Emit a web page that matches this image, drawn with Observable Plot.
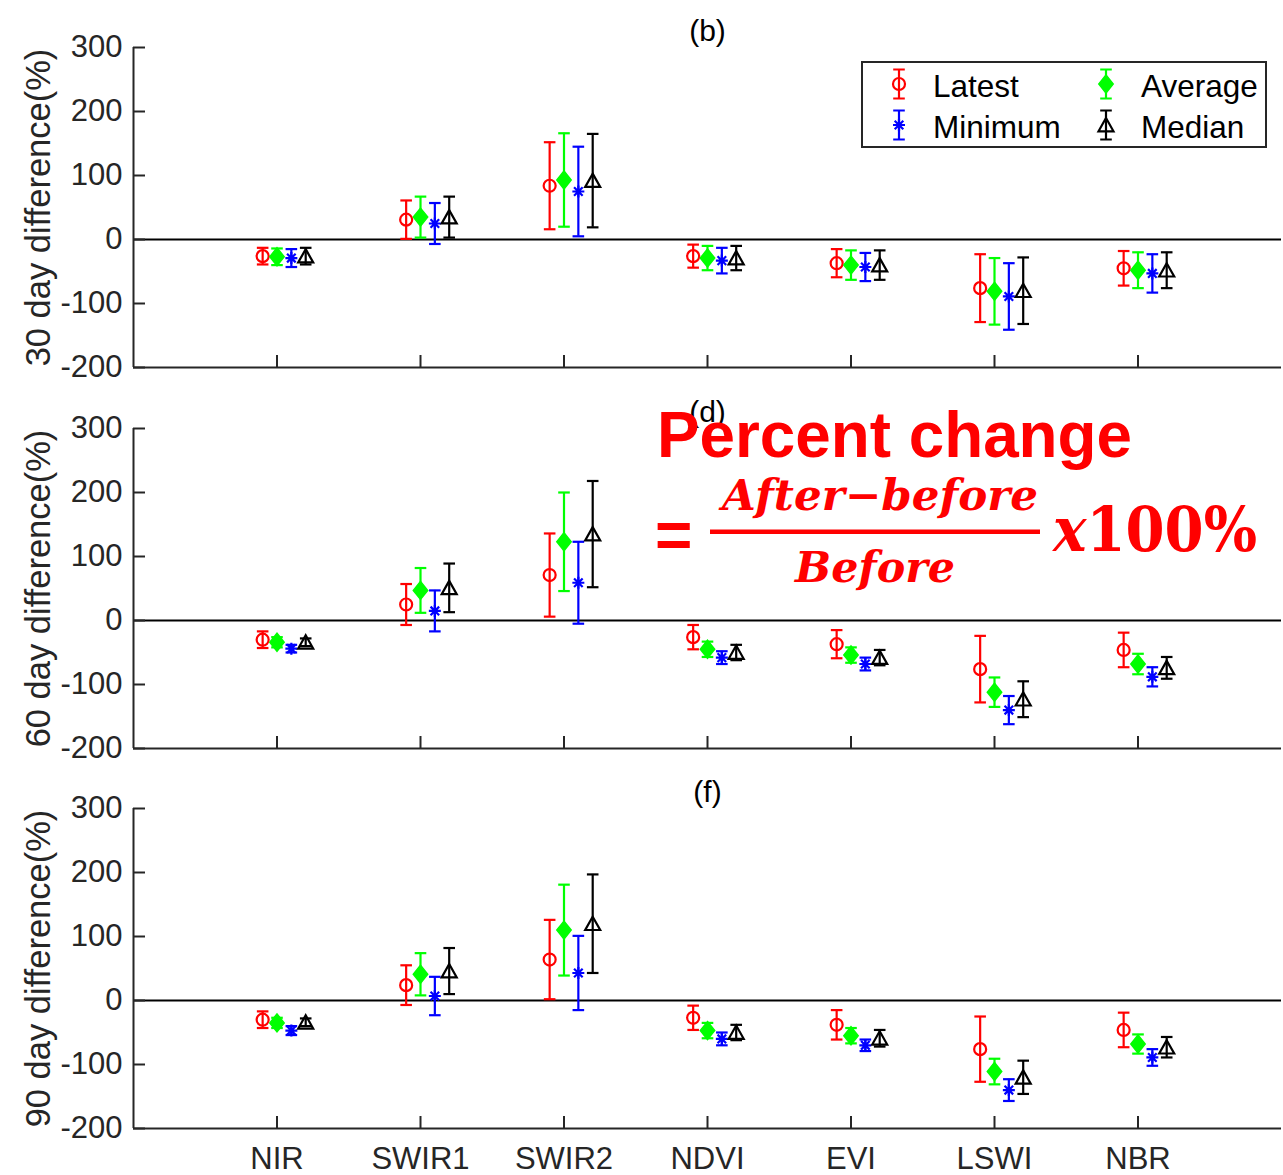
<!DOCTYPE html>
<html>
<head>
<meta charset="utf-8">
<script src="https://cdn.jsdelivr.net/npm/d3@7"></script>
<script src="https://cdn.jsdelivr.net/npm/@observablehq/plot@0.6"></script>
<style>
  html, body { margin: 0; padding: 0; background: #fff; }
  #fig { position: relative; width: 1283px; height: 1175px; overflow: hidden; background: #fff;
         font-family: "Liberation Sans", Arial, sans-serif; }
  #fig svg { position: absolute; left: 0; }
</style>
</head>
<body>
<div id="fig"></div>
<script>
// Spectral bands / indices on the x axis
const bands = ["NIR", "SWIR1", "SWIR2", "NDVI", "EVI", "LSWI", "NBR"];
const seriesNames = ["Latest", "Average", "Minimum", "Median"];
const seriesColors = ["#ff0000", "#00ff00", "#0000ff", "#000000"];
const yTicks = [-200, -100, 0, 100, 200, 300];
const panelTitles = ["(b)", "(d)", "(f)"];
const panelLabels = ["30 day difference(%)", "60 day difference(%)", "90 day difference(%)"];

// 30 day difference (%): value and error half-width per band
const latest30 = [-26, 31, 84, -26, -37, -76, -45];
const latest30Err = [13, 30, 68, 18, 22, 53, 27];
const average30 = [-27, 35, 93, -29, -40, -81, -48];
const average30Err = [13, 32, 73, 19, 23, 52, 28];
const minimum30 = [-29, 25, 75, -33, -43, -89, -53];
const minimum30Err = [14, 32, 70, 20, 22, 52, 30];
const median30 = [-26, 35, 92, -29, -40, -80, -48];
const median30Err = [13, 32, 73, 19, 23, 52, 28];

// 60 day difference (%)
const latest60 = [-30, 25, 71, -26, -37, -76, -46];
const latest60Err = [13, 32, 65, 19, 22, 52, 27];
const average60 = [-34, 47, 123, -45, -54, -112, -68];
const average60Err = [8, 35, 77, 12, 12, 23, 16];
const minimum60 = [-44, 15, 59, -58, -68, -140, -88];
const minimum60Err = [6, 32, 64, 10, 10, 22, 15];
const median60 = [-34, 51, 135, -50, -58, -123, -74];
const median60Err = [6, 38, 83, 12, 12, 28, 17];

// 90 day difference (%)
const latest90 = [-30, 24, 64, -27, -38, -76, -46];
const latest90Err = [13, 31, 62, 19, 23, 51, 27];
const average90 = [-35, 41, 110, -47, -55, -111, -68];
const average90Err = [8, 33, 71, 12, 12, 20, 15];
const minimum90 = [-47, 7, 43, -60, -70, -140, -89];
const minimum90Err = [7, 30, 58, 10, 9, 17, 13];
const median90 = [-34, 46, 120, -50, -59, -120, -73];
const median90Err = [6, 36, 77, 12, 13, 26, 16];

const panelValues = [
  [latest30, average30, minimum30, median30],
  [latest60, average60, minimum60, median60],
  [latest90, average90, minimum90, median90]
];
const panelErrors = [
  [latest30Err, average30Err, minimum30Err, median30Err],
  [latest60Err, average60Err, minimum60Err, median60Err],
  [latest90Err, average90Err, minimum90Err, median90Err]
];

// Layout
const W = 1283, H = 1175;
const panelTop = [0, 381, 762];
const panelMarginTop = [47, 47, 46];
const panelMarginBottom = [14, 14, 47];
const plotHeight = 320;
const seriesShift = [-0.1, 0, 0.1, 0.2];   // side-by-side offset within a band
const axisColor = "#262626";

// Marker shapes (MATLAB-style)
const capSymbol = {draw(c) { c.moveTo(-5.8, 0); c.lineTo(5.8, 0); }};
const circleSymbol = {draw(c) { c.moveTo(6, 0); c.arc(0, 0, 6, 0, 2 * Math.PI); c.closePath(); }};
const diamondSymbol = {draw(c) { c.moveTo(0, -9); c.lineTo(7.2, 0); c.lineTo(0, 9); c.lineTo(-7.2, 0); c.closePath(); }};
const asteriskSymbol = {draw(c) {
  const a = 6, b = 4.3;
  c.moveTo(0, -a); c.lineTo(0, a);
  c.moveTo(-a, 0); c.lineTo(a, 0);
  c.moveTo(-b, -b); c.lineTo(b, b);
  c.moveTo(-b, b); c.lineTo(b, -b);
}};
const triangleSymbol = {draw(c) { c.moveTo(0, -7); c.lineTo(7.5, 6.3); c.lineTo(-7.5, 6.3); c.closePath(); }};
const seriesSymbols = [circleSymbol, diamondSymbol, asteriskSymbol, triangleSymbol];
const seriesFilled = [false, true, false, false];

const fig = document.getElementById("fig");

function drawPanel(p) {
  const rows = [];
  seriesNames.forEach((s, k) => {
    panelValues[p][k].forEach((v, i) => {
      const e = panelErrors[p][k][i];
      rows.push({band: bands[i], series: s, pos: i + 1 + seriesShift[k], value: v, lo: v - e, hi: v + e});
    });
  });
  const showBands = p === 2;
  const markerMarks = seriesNames.map((s, k) => Plot.dot(rows.filter(d => d.series === s), {
    x: "pos", y: "value", symbol: seriesSymbols[k], r: 6,
    stroke: "series", fill: seriesFilled[k] ? "series" : "none",
    strokeWidth: seriesFilled[k] ? 1.5 : 2.2
  }));

  const chart = Plot.plot({
    width: W,
    height: panelMarginTop[p] + plotHeight + panelMarginBottom[p],
    marginLeft: 133, marginRight: 2,
    marginTop: panelMarginTop[p], marginBottom: panelMarginBottom[p],
    style: {background: "transparent", overflow: "visible", color: axisColor,
            fontFamily: "'Liberation Sans', Arial, sans-serif", fontSize: "31px"},
    x: {domain: [0, 8]},
    y: {domain: [-200, 300]},
    color: {domain: seriesNames, range: seriesColors},
    marks: [
      Plot.ruleY([0], {stroke: "#000", strokeWidth: 2.2}),
      Plot.ruleX([0], {stroke: axisColor, strokeWidth: 2}),
      Plot.ruleY([-200], {stroke: axisColor, strokeWidth: 2}),
      Plot.axisY({ticks: yTicks, tickSize: -12, tickPadding: 23, tickFormat: d => String(d),
                  fontSize: 31, stroke: axisColor, strokeWidth: 2, label: null}),
      Plot.axisX({ticks: d3.range(1, 8), tickSize: -12, tickPadding: 30,
                  tickFormat: i => showBands ? bands[i - 1] : "",
                  fontSize: 31, stroke: axisColor, strokeWidth: 2, label: null}),
      Plot.text([panelLabels[p]], {frameAnchor: "left", textAnchor: "middle", lineAnchor: "middle",
                  rotate: -90, dx: -95, text: d => d, fontSize: 34.5, fill: axisColor}),
      Plot.text([panelTitles[p]], {frameAnchor: "top", textAnchor: "middle", lineAnchor: "bottom",
                  dy: -7, text: d => d, fontSize: 30, fill: "#000"}),
      Plot.ruleX(rows, {x: "pos", y1: "lo", y2: "hi", stroke: "series", strokeWidth: 2.2}),
      Plot.dot(rows, {x: "pos", y: "lo", symbol: capSymbol, r: 6, stroke: "series", fill: "none", strokeWidth: 2.2}),
      Plot.dot(rows, {x: "pos", y: "hi", symbol: capSymbol, r: 6, stroke: "series", fill: "none", strokeWidth: 2.2}),
      ...markerMarks
    ]
  });
  chart.style.top = panelTop[p] + "px";
  fig.appendChild(chart);
}

[0, 1, 2].forEach(drawPanel);

// Overlay: legend and the percent-change formula
const over = d3.select(fig).append("svg")
  .attr("width", W).attr("height", H)
  .style("top", "0px").style("pointer-events", "none");

// Legend
const lg = over.append("g");
lg.append("rect").attr("x", 862).attr("y", 62).attr("width", 404).attr("height", 85)
  .attr("fill", "#fff").attr("stroke", axisColor).attr("stroke-width", 2);
const legendIconX = [899, 1106], legendTextX = [933, 1141];
const legendIconY = [84, 125], legendTextY = [97, 138];
const legendCell = [[0, 0], [1, 0], [0, 1], [1, 1]];   // [column, row] per series
seriesNames.forEach((s, k) => {
  const [c, r] = legendCell[k];
  const cx = legendIconX[c], cy = legendIconY[r];
  const g = lg.append("g").attr("transform", `translate(${cx},${cy})`);
  g.append("path").attr("d", "M0,-14.5V14.5M-5.8,-14.5H5.8M-5.8,14.5H5.8")
    .attr("stroke", seriesColors[k]).attr("stroke-width", 2.2).attr("fill", "none");
  g.append("path").attr("d", d3.symbol(seriesSymbols[k])())
    .attr("stroke", seriesColors[k]).attr("stroke-width", seriesFilled[k] ? 1.5 : 2.2)
    .attr("fill", seriesFilled[k] ? seriesColors[k] : "none");
  lg.append("text").attr("x", legendTextX[c]).attr("y", legendTextY[r])
    .attr("font-size", 31.5).attr("fill", "#000").text(s);
});

// Percent change formula
const red = "#ff0000";
const f = over.append("g").attr("fill", red);
f.append("text").attr("x", 657).attr("y", 457)
  .attr("font-family", "'Liberation Sans', Arial, sans-serif").attr("font-weight", "bold")
  .attr("font-size", 64).attr("textLength", 475).attr("lengthAdjust", "spacingAndGlyphs")
  .text("Percent change");
f.append("text").attr("x", 655).attr("y", 557)
  .attr("font-family", "'Liberation Sans', Arial, sans-serif").attr("font-weight", "bold")
  .attr("font-size", 64).text("=");
f.append("rect").attr("x", 710).attr("y", 529.5).attr("width", 330).attr("height", 4.5);
const serif = "'DejaVu Serif', 'Liberation Serif', serif";
f.append("text").attr("x", 722).attr("y", 510)
  .attr("font-family", serif).attr("font-weight", "bold").attr("font-style", "italic")
  .attr("font-size", 42).attr("textLength", 316).attr("lengthAdjust", "spacingAndGlyphs")
  .text("After\u2212before");
f.append("text").attr("x", 795).attr("y", 582)
  .attr("font-family", serif).attr("font-weight", "bold").attr("font-style", "italic")
  .attr("font-size", 42).attr("textLength", 160).attr("lengthAdjust", "spacingAndGlyphs")
  .text("Before");
const xt = f.append("text").attr("x", 1053).attr("y", 551)
  .attr("font-family", serif).attr("font-weight", "bold")
  .attr("font-size", 62).attr("textLength", 204).attr("lengthAdjust", "spacingAndGlyphs");
xt.append("tspan").attr("font-style", "italic").text("x");
xt.append("tspan").text("100%");
</script>
</body>
</html>
